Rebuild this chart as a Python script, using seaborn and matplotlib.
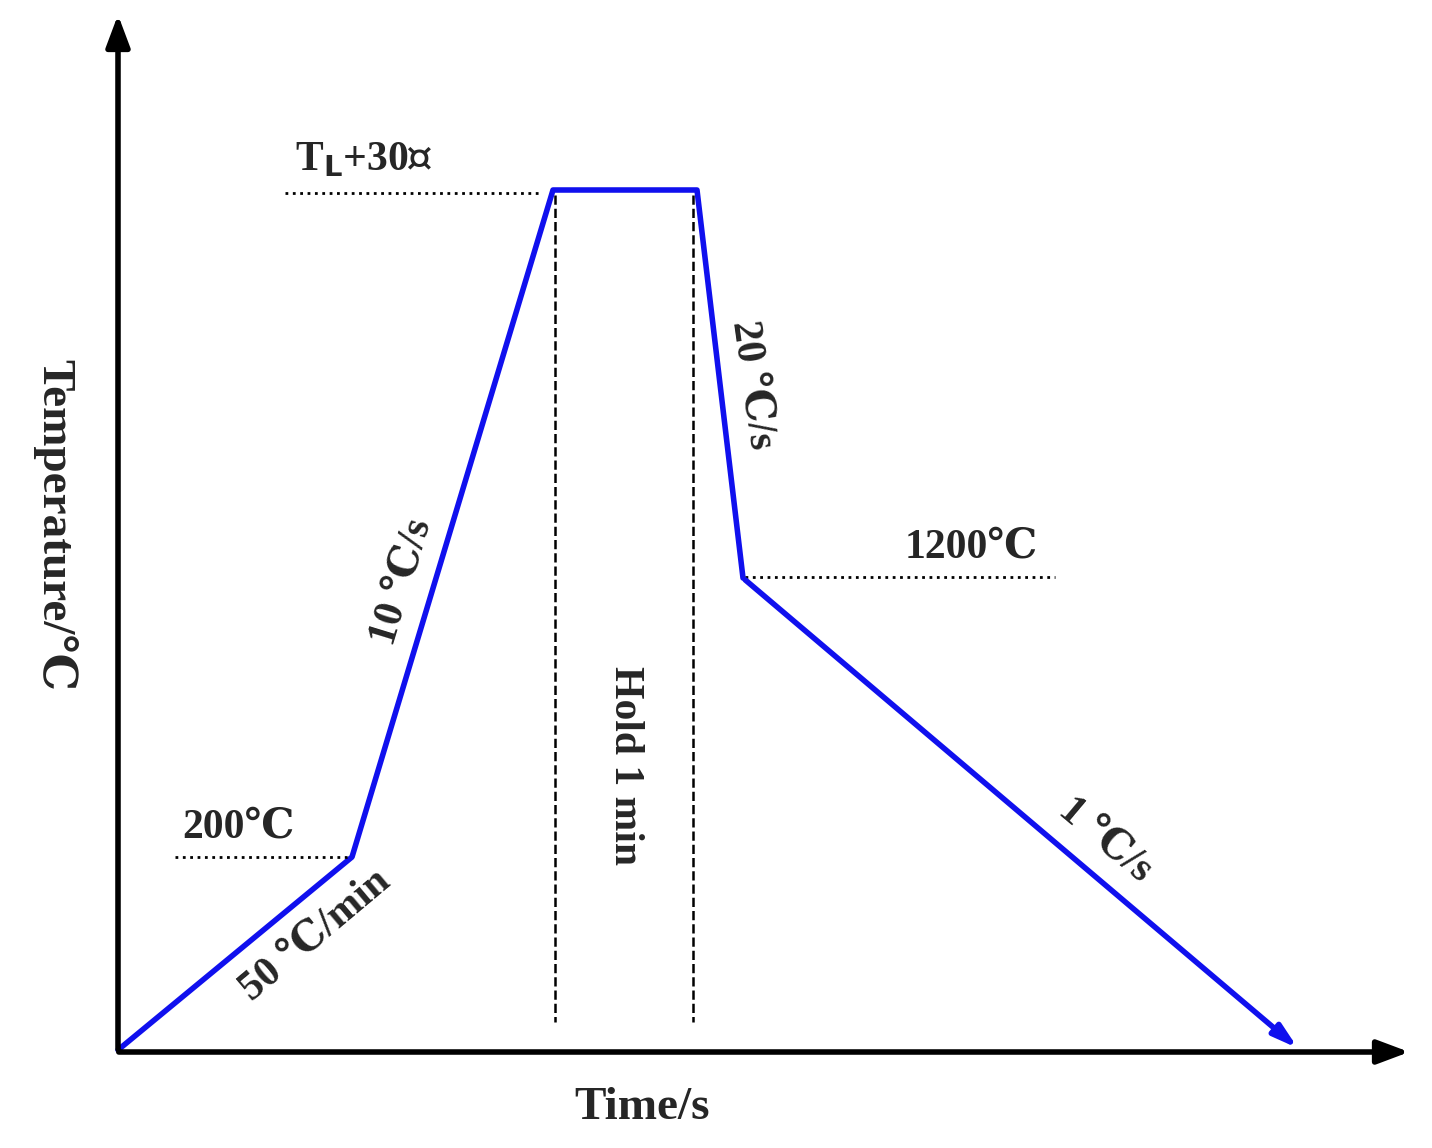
import matplotlib
matplotlib.use("Agg")
import matplotlib.pyplot as plt
import seaborn as sns

# schematic coordinates (canvas units, y grows downward)
time_pts = [118, 352, 553, 697, 743, 1300]
temp_pts = [1050, 857, 190, 190, 578, 1050]
hold_x = [555, 693]

sns.set_theme(style="white")
plt.rcParams['font.family'] = ['Liberation Serif', 'DejaVu Serif']
plt.rcParams['font.weight'] = 'bold'

fig = plt.figure(figsize=(14.32, 11.48), dpi=100)
ax = fig.add_axes([0, 0, 1, 1])
ax.set_xlim(0, 1432)
ax.set_ylim(1148, 0)
ax.axis('off')

# axes arrows
ax.annotate('', xy=(118, 12), xytext=(118, 1052),
            arrowprops=dict(arrowstyle='-|>,head_width=0.6,head_length=1.6', lw=4, color='black'))
ax.annotate('', xy=(1412, 1052), xytext=(116, 1052),
            arrowprops=dict(arrowstyle='-|>,head_width=0.6,head_length=1.6', lw=4, color='black'))

# heating/cooling path
sns.lineplot(x=time_pts[:-1], y=temp_pts[:-1], ax=ax, color='#1010ee', lw=4, sort=False)
ax.annotate('', xy=(time_pts[-1], temp_pts[-1]), xytext=(time_pts[-2], temp_pts[-2]),
            arrowprops=dict(arrowstyle='-|>,head_width=0.35,head_length=1.2', lw=4, color='#1010ee'))

# guide lines
ax.plot([285, 540], [193, 193], ls=':', color='black', lw=2)
ax.plot([175, 350], [857, 857], ls=':', color='black', lw=2)
ax.plot([745, 1055], [577, 577], ls=':', color='black', lw=2)
for x in hold_x:
    ax.plot([x, x], [195, 1022], ls='--', color='black', lw=1.8)

fs = 30
ax.text(295, 160, 'T$_\\mathbf{L}$+30℃', fontsize=fs, va='center')
ax.text(182, 828, '200℃', fontsize=fs, va='center')
ax.text(905, 548, '1200℃', fontsize=fs, va='center')
ax.text(315, 935, '50 ℃/min', fontsize=fs, rotation=40, ha='center', va='center')
ax.text(402, 582, '10 ℃/s', fontsize=fs, rotation=73, ha='center', va='center')
ax.text(752, 385, '20 ℃/s', fontsize=fs, rotation=-82, ha='center', va='center')
ax.text(625, 765, 'Hold 1 min', fontsize=fs, rotation=-90, ha='center', va='center')
ax.text(1105, 840, '1 ℃/s', fontsize=fs, rotation=-40, ha='center', va='center')
ax.text(55, 525, 'Temperature/℃', fontsize=34, rotation=-90, ha='center', va='center')
ax.text(642, 1108, 'Time/s', fontsize=34, ha='center', va='center')

fig.savefig('out.png', dpi=100)
